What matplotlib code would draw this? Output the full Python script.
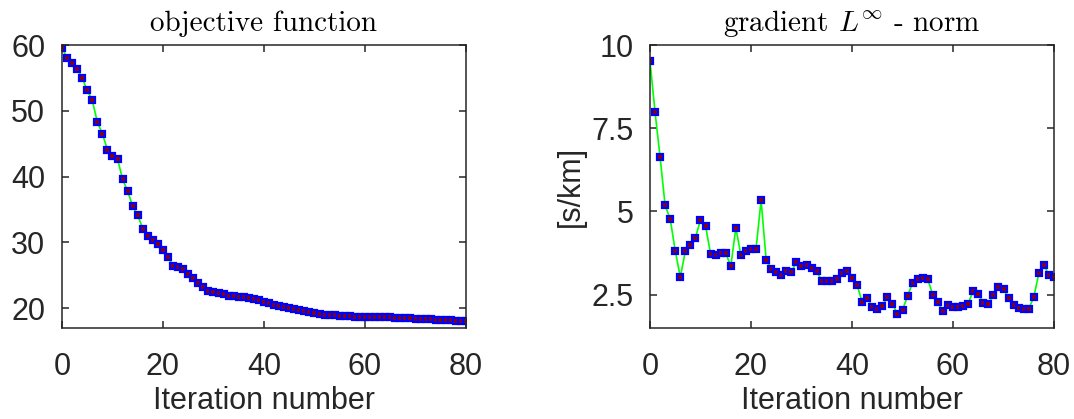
import matplotlib
matplotlib.use('Agg')
import matplotlib.pyplot as plt

# iteration numbers 0..80
iterations = list(range(81))

# objective function values
objective = [59.6, 58.0, 57.2, 56.4, 55.0, 53.1, 51.6, 48.3, 46.5, 44.1,
             43.2, 42.7, 39.6, 37.8, 35.5, 34.1, 32.1, 31.0, 30.3, 29.7,
             28.9, 27.8, 26.4, 26.2, 25.9, 25.2, 24.6, 23.9, 23.2, 22.6,
             22.4, 22.3, 22.2, 21.9, 21.8, 21.7, 21.65, 21.55, 21.4, 21.2,
             20.95, 20.75, 20.55, 20.35, 20.2, 20.05, 19.95, 19.75, 19.6, 19.45,
             19.35, 19.15, 19.05, 18.95, 18.9, 18.85, 18.8, 18.75, 18.72, 18.7,
             18.68, 18.66, 18.65, 18.65, 18.64, 18.6, 18.55, 18.5, 18.45, 18.45,
             18.4, 18.38, 18.35, 18.3, 18.25, 18.2, 18.18, 18.15, 18.12, 18.08,
             18.0]

# gradient L-infinity norm [s/km]
grad_norm = [9.52, 7.99, 6.63, 5.18, 4.78, 3.82, 3.03, 3.80, 3.99, 4.21,
             4.75, 4.57, 3.72, 3.70, 3.75, 3.75, 3.35, 4.51, 3.69, 3.81,
             3.88, 3.88, 5.34, 3.55, 3.28, 3.17, 3.09, 3.22, 3.19, 3.48,
             3.36, 3.38, 3.31, 3.21, 2.92, 2.91, 2.90, 2.98, 3.15, 3.20,
             3.01, 2.79, 2.29, 2.39, 2.13, 2.08, 2.17, 2.42, 2.22, 1.92,
             2.04, 2.46, 2.86, 2.98, 3.01, 2.97, 2.49, 2.28, 2.00, 2.18,
             2.12, 2.12, 2.16, 2.23, 2.62, 2.52, 2.26, 2.21, 2.50, 2.73,
             2.67, 2.41, 2.20, 2.09, 2.07, 2.08, 2.43, 3.15, 3.39, 3.09,
             3.03]

x_ticks = [0, 20, 40, 60, 80]
left_yticks = [20, 30, 40, 50, 60]
right_yticks = [2.5, 5, 7.5, 10]
right_yticklabels = ['2.5', '5', '7.5', '10']

plt.rcParams['font.family'] = ['Liberation Sans', 'DejaVu Sans']
plt.rcParams['mathtext.fontset'] = 'cm'

text_color = '#262626'
fig = plt.figure(figsize=(10.74, 4.19), dpi=100)
ax1 = fig.add_axes([0.0577, 0.2172, 0.3762, 0.6754])
ax2 = fig.add_axes([0.6052, 0.2172, 0.3762, 0.6754])


def style(ax):
    for s in ax.spines.values():
        s.set_color(text_color)
        s.set_linewidth(1.1)
    ax.tick_params(direction='in', length=5, width=1.1, color=text_color,
                   labelcolor=text_color, labelsize=22, pad=12,
                   top=True, right=True)
    ax.tick_params(axis='x', pad=17)
    ax.set_xlim(0, 80)
    ax.set_xticks(x_ticks)
    ax.set_xlabel('Iteration number', fontsize=22, color=text_color, labelpad=3)


ax1.plot(iterations, objective, color='#00ff00', lw=1.2,
         marker='s', ms=4.5, mfc='#8b0000', mec='#0000ff', mew=1.6)
style(ax1)
ax1.set_ylim(17, 60)
ax1.set_yticks(left_yticks)
ax1.set_title('objective function', fontsize=21, pad=10, family='cmr10')

ax2.plot(iterations, grad_norm, color='#00ff00', lw=1.2,
         marker='s', ms=4.5, mfc='#8b0000', mec='#0000ff', mew=1.6)
style(ax2)
ax2.set_ylim(1.5, 10)
ax2.set_yticks(right_yticks)
ax2.set_yticklabels(right_yticklabels)
ax2.set_ylabel('[s/km]', fontsize=22, color=text_color, labelpad=4)
ax2.set_title(r'gradient $L^{\infty}$ - norm', fontsize=21, pad=10, family='cmr10')

fig.savefig('out.png', dpi=100)
